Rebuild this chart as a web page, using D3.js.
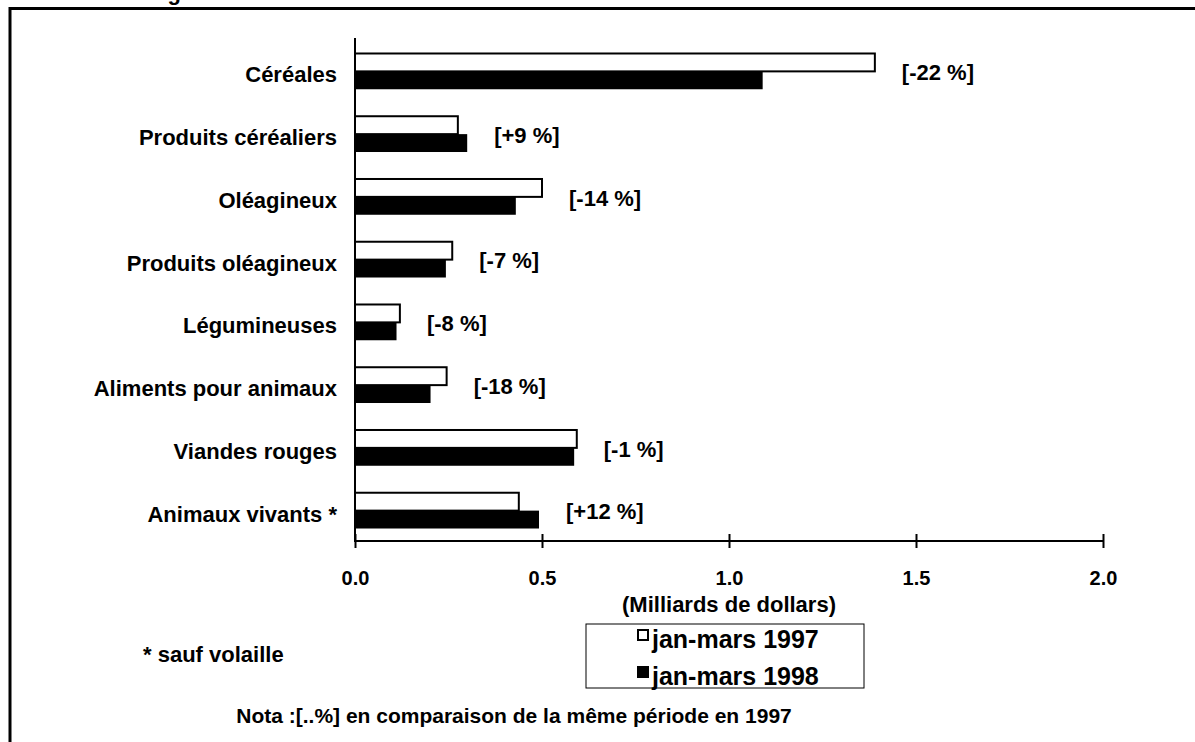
<!DOCTYPE html>
<html>
<head>
<meta charset="utf-8">
<script src="https://cdn.jsdelivr.net/npm/d3@7"></script>
<style>
  body { margin: 0; background: #fff; }
  svg text { font-family: "Liberation Sans", Arial, sans-serif; font-weight: bold; fill: #000; }
</style>
</head>
<body>
<div id="chart"></div>
<script>
// categories, top to bottom
var categories = ["Céréales", "Produits céréaliers", "Oléagineux", "Produits oléagineux",
    "Légumineuses", "Aliments pour animaux", "Viandes rouges", "Animaux vivants *"];

// milliards de dollars
var values1997 = [1.39, 0.275, 0.50, 0.26, 0.12, 0.245, 0.593, 0.438];
var values1998 = [1.09, 0.30, 0.43, 0.243, 0.111, 0.202, 0.586, 0.492];

var changes = ["[-22 %]", "[+9 %]", "[-14 %]", "[-7 %]", "[-8 %]", "[-18 %]", "[-1 %]", "[+12 %]"];

var series = ["jan-mars 1997", "jan-mars 1998"];
var xTicks = [0, 0.5, 1.0, 1.5, 2.0];

var width = 1195,
    height = 742;

var svg = d3.select("#chart")
    .append("svg")
    .attr("width", width)
    .attr("height", height);

// title, cut off at the top of the picture like in the original
svg.append("text")
    .attr("x", 148)
    .attr("y", 0)
    .style("font-size", "22px")
    .text("Figure 1");

// frame (only top and left visible)
svg.append("path")
    .attr("d", "M10,742 L10,8.5 L1195,8.5")
    .attr("fill", "none")
    .attr("stroke", "#000")
    .attr("stroke-width", 3);

var x = d3.scaleLinear()
    .domain([0, 2])
    .range([355, 1103]);

var y = d3.scaleBand()
    .domain(categories)
    .range([40, 542])
    .paddingInner(0.43)
    .paddingOuter(0.215);

var ySub = d3.scaleBand()
    .domain(series)
    .range([0, y.bandwidth()]);

var rows = categories.map(function (c, i) {
    return { cat: c, v: [values1997[i], values1998[i]], change: changes[i] };
});

var g = svg.selectAll(".row")
    .data(rows)
    .enter().append("g")
    .attr("class", "row")
    .attr("transform", function (d) { return "translate(0," + y(d.cat) + ")"; });

g.selectAll("rect")
    .data(function (d) {
        return d.v.map(function (v, j) { return { s: series[j], value: v }; });
    })
    .enter().append("rect")
    .attr("x", x(0))
    .attr("y", function (d) { return ySub(d.s); })
    .attr("width", function (d) { return x(d.value) - x(0); })
    .attr("height", ySub.bandwidth())
    .attr("fill", function (d) { return d.s === series[0] ? "#fff" : "#000"; })
    .attr("stroke", "#000")
    .attr("stroke-width", function (d) { return d.s === series[0] ? 2 : 0; });

g.append("text")
    .attr("x", function (d) { return x(d3.max(d.v)) + 27; })
    .attr("y", y.bandwidth() / 2 + 1)
    .attr("dy", "0.35em")
    .style("font-size", "22px")
    .text(function (d) { return d.change; });

// category axis
var yAxis = svg.append("g")
    .attr("transform", "translate(355,0)")
    .call(d3.axisLeft(y).tickSize(0).tickPadding(18));
yAxis.select(".domain").remove();
yAxis.selectAll("text")
    .attr("dy", "0.5em")
    .style("font-size", "22px")
    .style("font-family", null);

svg.append("line")
    .attr("x1", 355).attr("x2", 355)
    .attr("y1", 38).attr("y2", 542)
    .attr("stroke", "#000")
    .attr("stroke-width", 2);

// value axis
var xAxis = svg.append("g")
    .attr("transform", "translate(0,541)")
    .call(d3.axisBottom(x).tickValues(xTicks).tickFormat(d3.format(".1f")).tickSize(7));
xAxis.select(".domain")
    .attr("d", "M" + x(0) + ",0H" + x(2))
    .attr("stroke-width", 2);
xAxis.selectAll(".tick line")
    .attr("y1", -7)
    .attr("stroke-width", 2);
xAxis.selectAll(".tick text")
    .attr("y", 37)
    .attr("dy", "0.35em")
    .style("font-size", "20px")
    .style("font-family", null);

svg.append("text")
    .attr("x", x(1))
    .attr("y", 604)
    .attr("dy", "0.35em")
    .attr("text-anchor", "middle")
    .style("font-size", "22px")
    .text("(Milliards de dollars)");

// legend
var legend = svg.append("g").attr("transform", "translate(586,624)");
legend.append("rect")
    .attr("width", 278)
    .attr("height", 64)
    .attr("fill", "#fff")
    .attr("stroke", "#000")
    .attr("stroke-width", 1);
var li = legend.selectAll(".li")
    .data(series)
    .enter().append("g")
    .attr("transform", function (d, i) { return "translate(52," + (15 + i * 37) + ")"; });
li.append("rect")
    .attr("x", 0)
    .attr("y", -9)
    .attr("width", 10)
    .attr("height", 10)
    .attr("fill", function (d, i) { return i === 0 ? "#fff" : "#000"; })
    .attr("stroke", "#000")
    .attr("stroke-width", 2);
li.append("text")
    .attr("x", 14)
    .attr("y", 0)
    .attr("dy", "0.35em")
    .style("font-size", "25px")
    .text(function (d) { return d; });

svg.append("text")
    .attr("x", 143)
    .attr("y", 654)
    .attr("dy", "0.35em")
    .style("font-size", "22px")
    .text("* sauf volaille");

svg.append("text")
    .attr("x", 514)
    .attr("y", 716)
    .attr("dy", "0.35em")
    .attr("text-anchor", "middle")
    .style("font-size", "21px")
    .text("Nota :[..%] en comparaison de la même période en 1997");
</script>
</body>
</html>
